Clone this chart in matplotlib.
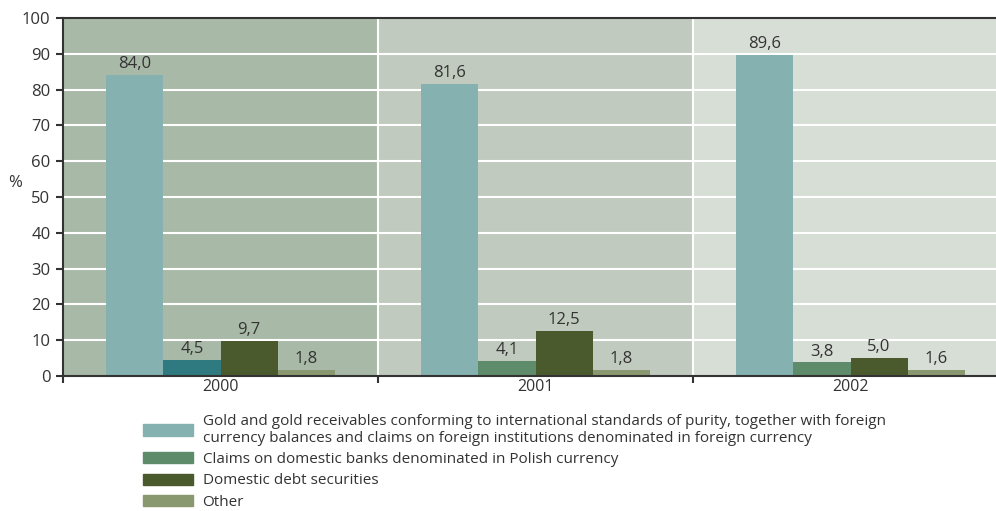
import matplotlib
matplotlib.use("Agg")
import matplotlib.pyplot as plt
from matplotlib.patches import Patch
import numpy as np

plt.rcParams['font.family'] = ['Open Sans', 'DejaVu Sans']

years = ['2000', '2001', '2002']
gold = [84.0, 81.6, 89.6]
claims = [4.5, 4.1, 3.8]
debt = [9.7, 12.5, 5.0]
other = [1.8, 1.8, 1.6]

series_labels = [
    'Gold and gold receivables conforming to international standards of purity, together with foreign\n'
    'currency balances and claims on foreign institutions denominated in foreign currency',
    'Claims on domestic banks denominated in Polish currency',
    'Domestic debt securities',
    'Other',
]
c_gold = '#85b1b1'
c_claims = '#5e8c6a'
c_claims_2000 = '#2e7a80'
c_debt = '#4a5a2c'
c_other = '#8a9870'
panel_bg = ['#a9b9a7', '#c1cabe', '#d7ded6']
txt = '#333333'
fs = 12

fig = plt.figure(figsize=(9.96, 5.11), dpi=100)
ax = fig.add_axes([63 / 996, 1 - 376 / 511, 945 / 996, 358 / 511])

x = np.arange(len(years))
w = 0.181
offsets = [-1.5 * w, -0.5 * w, 0.5 * w, 1.5 * w]

# panel backgrounds
for i, c in enumerate(panel_bg):
    ax.axvspan(i - 0.5, i + 0.5, color=c, zorder=0, lw=0)

ax.set_ylim(0, 100)
ax.set_xlim(-0.5, 2.5)
for yv in range(10, 100, 10):
    ax.axhline(yv, color='white', lw=1.5, zorder=1)
for xv in [0.5, 1.5]:
    ax.axvline(xv, color='white', lw=1.5, zorder=1)

claims_colors = [c_claims_2000, c_claims, c_claims]
series = [gold, claims, debt, other]
colors = [[c_gold] * 3, claims_colors, [c_debt] * 3, [c_other] * 3]
for vals, off, cols in zip(series, offsets, colors):
    bars = ax.bar(x + off, vals, width=w, color=cols, zorder=2, lw=0)
    for b, v in zip(bars, vals):
        ax.text(b.get_x() + b.get_width() / 2, v + 0.8, f'{v:.1f}'.replace('.', ','),
                ha='center', va='bottom', fontsize=fs, color=txt, zorder=3)

ax.set_yticks(range(0, 101, 10))
ax.set_xticks([-0.5, 0.5, 1.5, 2.5])
ax.set_xticklabels([])
ax.set_xticks(x, minor=True)
ax.set_xticklabels(years, minor=True)
ax.tick_params(axis='x', which='minor', length=0, pad=2, labelsize=fs - 0.5, labelcolor=txt)
ax.tick_params(axis='x', which='major', length=5, width=1.5, color='#333333')
ax.tick_params(axis='y', length=5, width=1.5, color='#333333', labelsize=fs, labelcolor=txt, pad=4)

for s in ['left', 'bottom', 'top']:
    ax.spines[s].set_color('#333333')
    ax.spines[s].set_linewidth(1.5)
ax.spines['right'].set_visible(False)

fig.text(15 / 996, 1 - 183 / 511, '%', fontsize=fs, color=txt, ha='center', va='center')

handles = [Patch(color=c_gold), Patch(color=c_claims), Patch(color=c_debt), Patch(color=c_other)]
leg = fig.legend(handles, series_labels, loc='upper left', bbox_to_anchor=(143 / 996, 1 - 414 / 511),
                 frameon=False, fontsize=11, handlelength=3.3, handleheight=0.75,
                 handletextpad=0.6, labelspacing=0.42, borderpad=0, borderaxespad=0)
for t in leg.get_texts():
    t.set_color(txt)
    t.set_linespacing(1.15)

fig.savefig('out.png', dpi=100)
